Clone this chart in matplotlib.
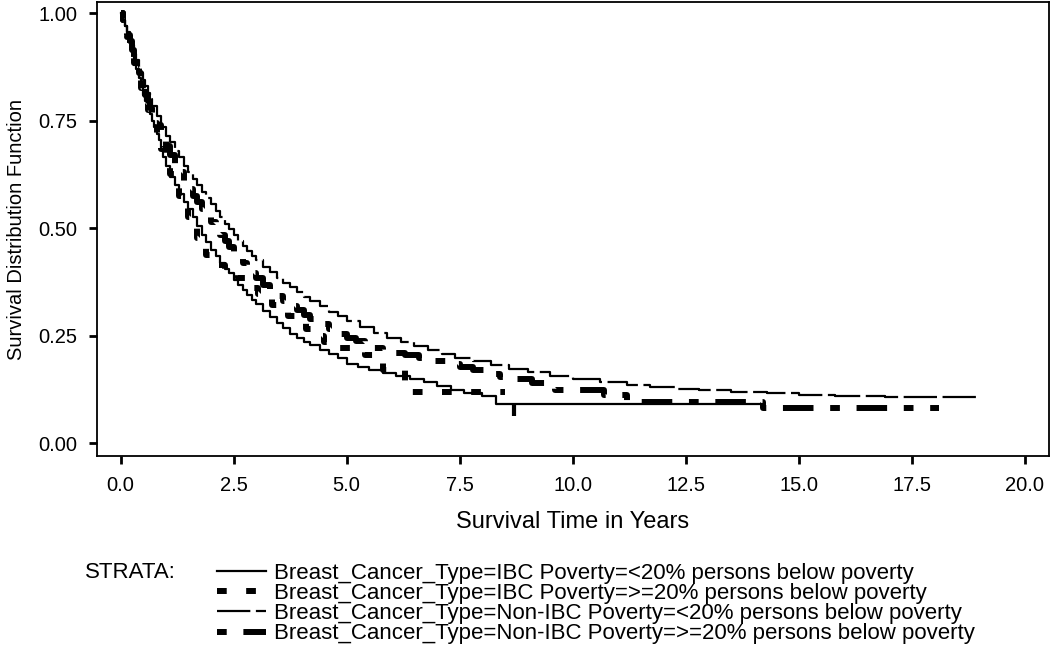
import numpy as np
import matplotlib.pyplot as plt
from matplotlib.lines import Line2D

plt.rcParams['font.family'] = ['Liberation Sans', 'DejaVu Sans']
plt.rcParams['lines.scale_dashes'] = False

# Kaplan-Meier step curves (time in years, survival)
t_ibc_lo = [0, 0.05, 0.1, 0.15, 0.2, 0.25, 0.3, 0.35, 0.4, 0.45, 0.5, 0.55, 0.6, 0.65, 0.7, 0.75,
            0.8, 0.85, 0.9, 0.95, 1.0, 1.1, 1.2, 1.3, 1.4, 1.5, 1.6, 1.7, 1.8, 1.9, 2.0, 2.1,
            2.2, 2.3, 2.4, 2.5, 2.6, 2.7, 2.8, 2.9, 3.0, 3.15, 3.3, 3.45, 3.6, 3.75, 3.9, 4.05,
            4.2, 4.4, 4.6, 4.8, 5.0, 5.25, 5.5, 5.8, 6.1, 6.4, 6.7, 7.0, 7.3, 7.6, 8.0, 8.3, 14.2]
s_ibc_lo = [1.0, 0.985, 0.97, 0.95, 0.93, 0.91, 0.89, 0.87, 0.85, 0.83, 0.81, 0.795, 0.78, 0.765, 0.75, 0.735,
            0.72, 0.705, 0.685, 0.665, 0.645, 0.62, 0.6, 0.58, 0.56, 0.545, 0.525, 0.505, 0.485, 0.468, 0.45, 0.435,
            0.42, 0.405, 0.395, 0.38, 0.368, 0.356, 0.345, 0.334, 0.323, 0.308, 0.293, 0.28, 0.267, 0.255, 0.245, 0.236,
            0.228, 0.217, 0.207, 0.197, 0.185, 0.177, 0.17, 0.163, 0.156, 0.15, 0.142, 0.133, 0.123, 0.117, 0.11, 0.091, 0.091]
# censored observation drawn as a tick under the IBC <20% curve
t_censor = [8.7]
s_censor = [0.078]

t_ibc_hi = [0, 0.05, 0.1, 0.15, 0.2, 0.25, 0.3, 0.35, 0.4, 0.45, 0.5, 0.55, 0.6, 0.65, 0.7, 0.8,
            0.9, 1.0, 1.1, 1.2, 1.3, 1.4, 1.5, 1.6, 1.7, 1.8, 1.9, 2.0, 2.15, 2.3, 2.45, 2.6,
            2.75, 2.9, 3.05, 3.2, 3.35, 3.5, 3.7, 3.9, 4.1, 4.3, 4.5, 4.8, 5.1, 5.4, 5.8, 6.3, 8.5]
s_ibc_hi = [1.0, 0.985, 0.965, 0.945, 0.925, 0.905, 0.885, 0.865, 0.845, 0.825, 0.805, 0.79, 0.775, 0.76, 0.745, 0.715,
            0.685, 0.655, 0.625, 0.6, 0.575, 0.55, 0.525, 0.5, 0.478, 0.457, 0.437, 0.425, 0.415, 0.405, 0.395, 0.385,
            0.372, 0.36, 0.348, 0.336, 0.322, 0.31, 0.295, 0.28, 0.265, 0.25, 0.235, 0.222, 0.212, 0.205, 0.17, 0.12, 0.12]

t_non_lo = [0, 0.05, 0.1, 0.15, 0.2, 0.25, 0.3, 0.35, 0.4, 0.45, 0.5, 0.55, 0.6, 0.65, 0.7, 0.8,
            0.9, 1.0, 1.1, 1.2, 1.3, 1.4, 1.5, 1.6, 1.7, 1.8, 1.9, 2.0, 2.1, 2.2, 2.3, 2.4,
            2.5, 2.6, 2.7, 2.8, 2.9, 3.0, 3.15, 3.3, 3.45, 3.6, 3.75, 3.9, 4.05, 4.2, 4.4, 4.6,
            4.8, 5.0, 5.3, 5.6, 5.9, 6.2, 6.5, 6.8, 7.1, 7.4, 7.8, 8.2, 8.6, 9.0, 9.5, 10.0,
            10.6, 11.2, 11.7, 12.3, 12.8, 13.5, 14.3, 15.0, 15.8, 16.9, 18.95]
s_non_lo = [1.0, 0.985, 0.97, 0.955, 0.94, 0.925, 0.905, 0.89, 0.875, 0.86, 0.845, 0.83, 0.815, 0.8, 0.785, 0.76,
            0.735, 0.715, 0.7, 0.68, 0.665, 0.645, 0.63, 0.615, 0.6, 0.585, 0.57, 0.555, 0.54, 0.525, 0.51, 0.497,
            0.484, 0.471, 0.459, 0.447, 0.436, 0.425, 0.41, 0.397, 0.385, 0.373, 0.362, 0.351, 0.34, 0.33, 0.318, 0.306,
            0.295, 0.284, 0.27, 0.257, 0.245, 0.235, 0.225, 0.216, 0.207, 0.199, 0.19, 0.181, 0.173, 0.166, 0.157, 0.15,
            0.143, 0.136, 0.13, 0.126, 0.123, 0.12, 0.116, 0.113, 0.11, 0.107, 0.107]

t_non_hi = [0, 0.05, 0.1, 0.15, 0.2, 0.25, 0.3, 0.35, 0.4, 0.45, 0.5, 0.55, 0.6, 0.65, 0.7, 0.8,
            0.9, 1.0, 1.1, 1.2, 1.3, 1.4, 1.5, 1.6, 1.7, 1.8, 1.9, 2.0, 2.1, 2.2, 2.3, 2.4,
            2.5, 2.6, 2.7, 2.8, 2.9, 3.0, 3.15, 3.3, 3.45, 3.6, 3.75, 3.9, 4.05, 4.2, 4.4, 4.6,
            4.8, 5.0, 5.2, 5.4, 5.6, 5.8, 6.0, 6.3, 6.6, 6.9, 7.2, 7.5, 7.8, 8.1, 8.4, 8.7,
            9.1, 9.6, 10.7, 11.2, 14.2, 18.1]
s_non_hi = [1.0, 0.985, 0.97, 0.95, 0.935, 0.915, 0.895, 0.88, 0.86, 0.845, 0.825, 0.81, 0.795, 0.78, 0.765, 0.74,
            0.715, 0.69, 0.67, 0.65, 0.63, 0.61, 0.59, 0.575, 0.56, 0.545, 0.53, 0.515, 0.5, 0.485, 0.47, 0.457,
            0.444, 0.431, 0.418, 0.406, 0.395, 0.384, 0.368, 0.355, 0.343, 0.331, 0.32, 0.309, 0.298, 0.288, 0.276, 0.265,
            0.255, 0.245, 0.237, 0.229, 0.222, 0.216, 0.21, 0.204, 0.198, 0.191, 0.184, 0.176, 0.169, 0.162, 0.155, 0.149,
            0.14, 0.123, 0.112, 0.095, 0.081, 0.081]

labels = ["Breast_Cancer_Type=IBC Poverty=<20% persons below poverty",
          "Breast_Cancer_Type=IBC Poverty=>=20% persons below poverty",
          "Breast_Cancer_Type=Non-IBC Poverty=<20% persons below poverty",
          "Breast_Cancer_Type=Non-IBC Poverty=>=20% persons below poverty"]

xticks = [0, 2.5, 5, 7.5, 10, 12.5, 15, 17.5, 20]
yticks = [0, 0.25, 0.5, 0.75, 1.0]

fig = plt.figure(figsize=(10.5, 6.46), dpi=100)
ax = fig.add_axes([0.0924, 0.294, 0.9066, 0.703])

styles = [
    dict(lw=1.6, linestyle='-'),
    dict(lw=4.3, linestyle=(0, (7, 14)), dash_capstyle='butt'),
    dict(lw=1.6, linestyle=(0, (24, 4))),
    dict(lw=4.3, linestyle=(0, (7, 12, 22, 12)), dash_capstyle='butt'),
]
series = [(t_ibc_lo, s_ibc_lo), (t_ibc_hi, s_ibc_hi), (t_non_lo, s_non_lo), (t_non_hi, s_non_hi)]

handles = []
for (t, s), st in zip(series, styles):
    ax.plot(t, s, drawstyle='steps-post', color='black', **st)
    handles.append(Line2D([], [], color='black', **st))
ax.plot(t_censor, s_censor, linestyle='none', marker='|', markersize=9, mew=3, color='black')

ax.set_xlim(-0.52, 20.53)
ax.set_ylim(-0.03, 1.026)
ax.set_xticks(xticks)
ax.set_xticklabels([f"{v:.1f}" for v in xticks])
ax.set_yticks(yticks)
ax.set_yticklabels([f"{v:.2f}" for v in yticks])
ax.tick_params(direction='out', length=6, width=2, labelsize=14.5, pad=8)
for sp in ax.spines.values():
    sp.set_linewidth(1.3)

ax.set_xlabel("Survival Time in Years", fontsize=17, labelpad=12)
ax.set_ylabel("Survival Distribution Function", fontsize=14.5)
ax.yaxis.set_label_coords(-0.075, 0.5)

fig.text(0.081, 1 - 573 / 646, "STRATA:", fontsize=16, va='center', ha='left')
fig.legend(handles, labels, loc='upper left', bbox_to_anchor=(0.2066, 1 - 562.5 / 646),
           frameon=False, fontsize=16, handlelength=2.2, handletextpad=0.36,
           labelspacing=-0.03, borderpad=0, borderaxespad=0)

fig.savefig("out.png", dpi=100)
